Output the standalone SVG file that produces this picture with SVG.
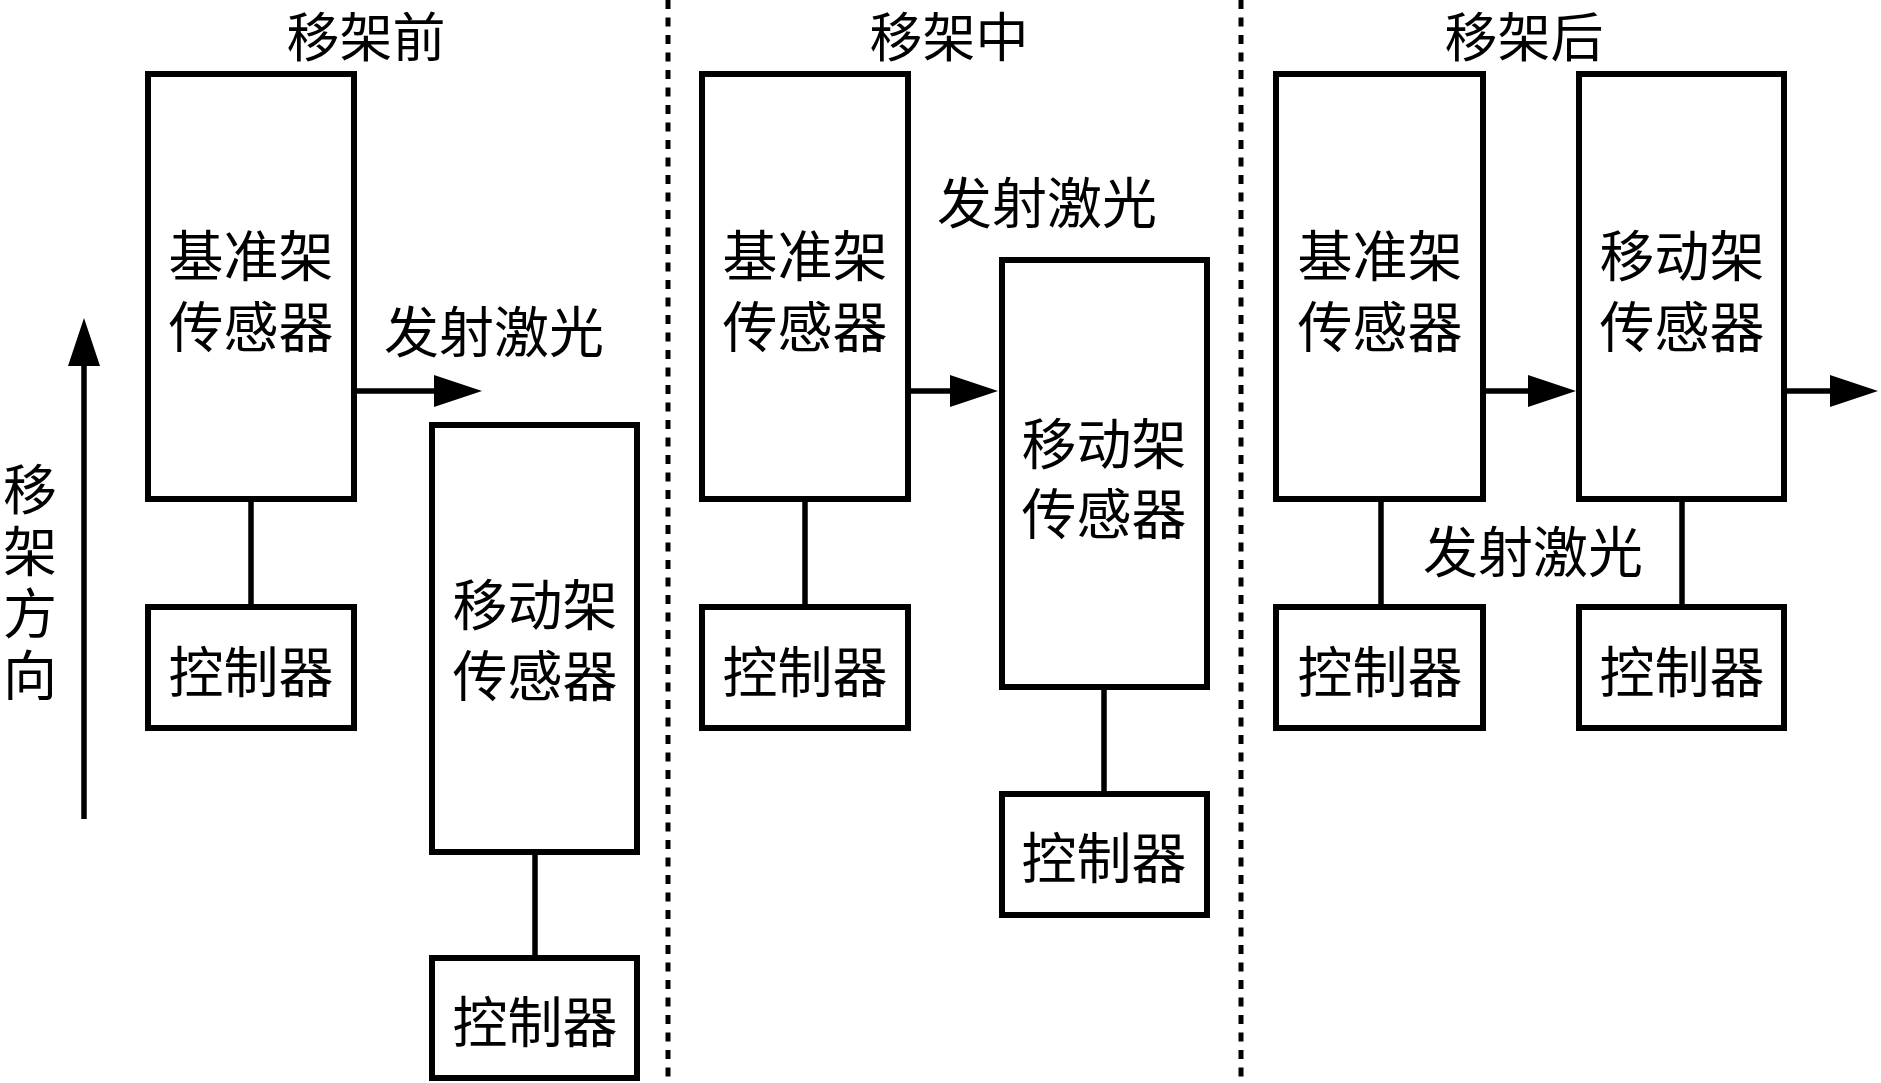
<svg xmlns="http://www.w3.org/2000/svg" width="1881" height="1083" viewBox="0 0 1881 1083">
<style>
.box{fill:#fff;stroke:#000;stroke-width:6}
.ln{fill:none;stroke:#000;stroke-width:5.5}
.div{fill:none;stroke:#000;stroke-width:5;stroke-dasharray:9 8.5}
text{font-family:"Noto Sans CJK SC","Noto Sans CJK TC",sans-serif;font-size:55px;fill:#000;text-anchor:middle;dominant-baseline:central}
.title{font-size:53px}
.vert{writing-mode:vertical-rl;letter-spacing:8px;font-size:54px}
</style>
<defs>
<marker id="ah" markerUnits="userSpaceOnUse" markerWidth="50" markerHeight="32" viewBox="0 0 48 32" refX="28" refY="16" orient="auto">
<path d="M0,0 L48,16 L0,32 z" fill="#000"/>
</marker>
</defs>
<g id="dividers">
<line class="div" x1="668" y1="0" x2="668" y2="1083"/>
<line class="div" x1="1241" y1="0" x2="1241" y2="1083"/>
</g>
<g id="titles">
<text class="title" x="366" y="34">移架前</text>
<text class="title" x="949" y="34">移架中</text>
<text class="title" x="1524" y="34">移架后</text>
</g>
<g id="direction">
<line class="ln" x1="84" y1="819" x2="84" y2="338" marker-end="url(#ah)"/>
<text class="vert" x="30" y="586">移架方向</text>
</g>
<g id="connectors">
<line class="ln" x1="251" y1="499" x2="251" y2="607"/>
<line class="ln" x1="535" y1="852" x2="535" y2="958"/>
<line class="ln" x1="354" y1="391" x2="462" y2="391" marker-end="url(#ah)"/>
<line class="ln" x1="805" y1="499" x2="805" y2="607"/>
<line class="ln" x1="1104" y1="687" x2="1104" y2="794"/>
<line class="ln" x1="907" y1="391" x2="978" y2="391" marker-end="url(#ah)"/>
<line class="ln" x1="1381" y1="499" x2="1381" y2="607"/>
<line class="ln" x1="1682" y1="499" x2="1682" y2="607"/>
<line class="ln" x1="1483" y1="391" x2="1556" y2="391" marker-end="url(#ah)"/>
<line class="ln" x1="1783" y1="391" x2="1858" y2="391" marker-end="url(#ah)"/>
</g>
<g id="labels">
<text x="494" y="328">发射激光</text>
<text x="1047" y="199">发射激光</text>
<text x="1533" y="548">发射激光</text>
</g>
<g id="c1-base">
<rect class="box" x="148" y="74" width="206" height="425"/>
<text x="251" y="252">基准架<tspan x="251" dy="71">传感器</tspan></text>
</g>
<g id="c1-base-ctrl">
<rect class="box" x="148" y="607" width="206" height="121"/>
<text x="251" y="668">控制器</text>
</g>
<g id="c1-move">
<rect class="box" x="432" y="425" width="205" height="427"/>
<text x="535" y="601">移动架<tspan x="535" dy="71">传感器</tspan></text>
</g>
<g id="c1-move-ctrl">
<rect class="box" x="432" y="958" width="205" height="120"/>
<text x="535" y="1018">控制器</text>
</g>
<g id="c2-base">
<rect class="box" x="702" y="74" width="206" height="425"/>
<text x="805" y="252">基准架<tspan x="805" dy="71">传感器</tspan></text>
</g>
<g id="c2-base-ctrl">
<rect class="box" x="702" y="607" width="206" height="121"/>
<text x="805" y="668">控制器</text>
</g>
<g id="c2-move">
<rect class="box" x="1002" y="260" width="205" height="427"/>
<text x="1104" y="440">移动架<tspan x="1104" dy="70">传感器</tspan></text>
</g>
<g id="c2-move-ctrl">
<rect class="box" x="1002" y="794" width="205" height="121"/>
<text x="1104" y="854">控制器</text>
</g>
<g id="c3-base">
<rect class="box" x="1276" y="74" width="207" height="425"/>
<text x="1380" y="252">基准架<tspan x="1380" dy="71">传感器</tspan></text>
</g>
<g id="c3-base-ctrl">
<rect class="box" x="1276" y="607" width="207" height="121"/>
<text x="1380" y="668">控制器</text>
</g>
<g id="c3-move">
<rect class="box" x="1579" y="74" width="205" height="425"/>
<text x="1682" y="252">移动架<tspan x="1682" dy="71">传感器</tspan></text>
</g>
<g id="c3-move-ctrl">
<rect class="box" x="1579" y="607" width="205" height="121"/>
<text x="1682" y="668">控制器</text>
</g>
</svg>
